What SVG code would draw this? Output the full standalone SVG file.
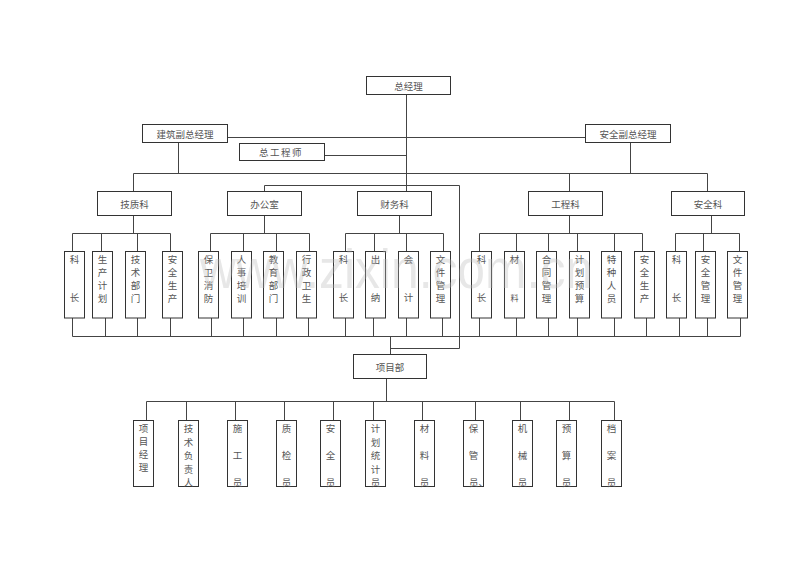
<svg xmlns="http://www.w3.org/2000/svg" width="800" height="565" viewBox="0 0 800 565">
<style>
.b{fill:#fff;stroke:#333;stroke-width:1}
.t{font-family:"Noto Sans CJK SC","Noto Sans",sans-serif;font-size:9.5px;fill:#555;text-anchor:middle;dominant-baseline:central}
.c{stroke:#444;stroke-width:1;fill:none}
.wm{font-family:"Liberation Sans",Arial,sans-serif;font-size:56px;fill:#bbb;fill-opacity:0.35}
</style>
<rect width="800" height="565" fill="#fff"/>
<g id="connectors" class="c">
<path d="M406.5 94.5V191.5M227.5 137.5H585.5M324.5 155.5H406.5M178.5 142.5V173.5M630.5 142.5V173.5M133.5 173.5H707.5M133.5 173.5V191.5M569.5 173.5V191.5M707.5 173.5V191.5M264.5 185.5H459.5V348.5M264.5 185.5V191.5"/>
<path d="M133.5 215.5V233.5M264.5 215.5V233.5M399.5 215.5V233.5M569.5 215.5V233.5M711.5 215.5V233.5"/>
<path d="M72.5 233.5H170.5M210.5 233.5H309.5M345.5 233.5H443.5M479.5 233.5H642.5M675.5 233.5H739.5"/>
<path d="M72.5 233.5V251.5M101.5 233.5V251.5M137.5 233.5V251.5M170.5 233.5V251.5M210.5 233.5V251.5M243.5 233.5V251.5M276.5 233.5V251.5M309.5 233.5V251.5M345.5 233.5V251.5M374.5 233.5V251.5M406.5 233.5V251.5M443.5 233.5V251.5M479.5 233.5V251.5M516.5 233.5V251.5M548.5 233.5V251.5M577.5 233.5V251.5M614.5 233.5V251.5M642.5 233.5V251.5M675.5 233.5V251.5M703.5 233.5V251.5M739.5 233.5V251.5"/>
<path d="M72.5 318V336.5M105.5 318V336.5M137.5 318V336.5M170.5 318V336.5M211.5 318V336.5M243.5 318V336.5M276.5 318V336.5M308.5 318V336.5M345.5 318V336.5M373.5 318V336.5M406.5 318V336.5M442.5 318V336.5M479.5 318V336.5M516.5 318V336.5M548.5 318V336.5M577.5 318V336.5M614.5 318V336.5M646.5 318V336.5M679.5 318V336.5M707.5 318V336.5M740.5 318V336.5M72.5 336.5H740.5"/>
<path d="M390.5 336.5V354.5M390.5 348.5H459.5M386.5 378.5V401.5M146.5 401.5H614.5"/>
<path d="M146.5 401.5V420.5M186.5 401.5V420.5M235.5 401.5V420.5M284.5 401.5V420.5M333.5 401.5V420.5M373.5 401.5V420.5M422.5 401.5V420.5M475.5 401.5V420.5M520.5 401.5V420.5M569.5 401.5V420.5M614.5 401.5V420.5"/>
</g>
<g id="n-zjl"><rect class="b" x="366.5" y="76.5" width="84" height="18"/><text class="t" x="408.5" y="85.5">总经理</text></g>
<g id="n-jzfz"><rect class="b" x="142.5" y="124.5" width="85" height="18"/><text class="t" x="185" y="133.5">建筑副总经理</text></g>
<g id="n-aqfz"><rect class="b" x="585.5" y="124.5" width="85" height="18"/><text class="t" x="628" y="133.5">安全副总经理</text></g>
<g id="n-zgcs"><rect class="b" x="239.5" y="143.5" width="85" height="17"/><text class="t" x="281" y="152" letter-spacing="1.5">总工程师</text></g>
<g id="n-jzk"><rect class="b" x="97.5" y="191.5" width="74" height="24"/><text class="t" x="134.5" y="203.5">技质科</text></g>
<g id="n-bgs"><rect class="b" x="227.5" y="191.5" width="74" height="24"/><text class="t" x="264.5" y="203.5">办公室</text></g>
<g id="n-cwk"><rect class="b" x="357.5" y="191.5" width="74" height="24"/><text class="t" x="394.5" y="203.5">财务科</text></g>
<g id="n-gck"><rect class="b" x="528.5" y="191.5" width="74" height="24"/><text class="t" x="565.5" y="203.5">工程科</text></g>
<g id="n-aqk"><rect class="b" x="671.5" y="191.5" width="73" height="24"/><text class="t" x="708" y="203.5">安全科</text></g>
<g id="r3-1"><rect class="b" x="64.5" y="251.5" width="20" height="66.5"/><text class="t"><tspan x="74.5" y="259">科</tspan><tspan x="74.5" y="297">长</tspan></text></g>
<g id="r3-2"><rect class="b" x="92.5" y="251.5" width="20" height="66.5"/><text class="t"><tspan x="102.5" y="259">生</tspan><tspan x="102.5" y="272">产</tspan><tspan x="102.5" y="285">计</tspan><tspan x="102.5" y="297.5">划</tspan></text></g>
<g id="r3-3"><rect class="b" x="125.5" y="251.5" width="20" height="66.5"/><text class="t"><tspan x="135.5" y="259">技</tspan><tspan x="135.5" y="272">术</tspan><tspan x="135.5" y="285">部</tspan><tspan x="135.5" y="297.5">门</tspan></text></g>
<g id="r3-4"><rect class="b" x="162.5" y="251.5" width="20" height="66.5"/><text class="t"><tspan x="172.5" y="259">安</tspan><tspan x="172.5" y="272">全</tspan><tspan x="172.5" y="285">生</tspan><tspan x="172.5" y="297.5">产</tspan></text></g>
<g id="r3-5"><rect class="b" x="198.5" y="251.5" width="20" height="66.5"/><text class="t"><tspan x="208.5" y="259">保</tspan><tspan x="208.5" y="272">卫</tspan><tspan x="208.5" y="285">消</tspan><tspan x="208.5" y="297.5">防</tspan></text></g>
<g id="r3-6"><rect class="b" x="231.5" y="251.5" width="20" height="66.5"/><text class="t"><tspan x="241.5" y="259">人</tspan><tspan x="241.5" y="272">事</tspan><tspan x="241.5" y="285">培</tspan><tspan x="241.5" y="297.5">训</tspan></text></g>
<g id="r3-7"><rect class="b" x="263.5" y="251.5" width="20" height="66.5"/><text class="t"><tspan x="273.5" y="259">教</tspan><tspan x="273.5" y="272">育</tspan><tspan x="273.5" y="285">部</tspan><tspan x="273.5" y="297.5">门</tspan></text></g>
<g id="r3-8"><rect class="b" x="296.5" y="251.5" width="20" height="66.5"/><text class="t"><tspan x="306.5" y="259">行</tspan><tspan x="306.5" y="272">政</tspan><tspan x="306.5" y="285">卫</tspan><tspan x="306.5" y="297.5">生</tspan></text></g>
<g id="r3-9"><rect class="b" x="333.5" y="251.5" width="20" height="66.5"/><text class="t"><tspan x="343.5" y="259">科</tspan><tspan x="343.5" y="297">长</tspan></text></g>
<g id="r3-10"><rect class="b" x="365.5" y="251.5" width="20" height="66.5"/><text class="t"><tspan x="375.5" y="259">出</tspan><tspan x="375.5" y="297">纳</tspan></text></g>
<g id="r3-11"><rect class="b" x="398.5" y="251.5" width="20" height="66.5"/><text class="t"><tspan x="408.5" y="259">会</tspan><tspan x="408.5" y="297">计</tspan></text></g>
<g id="r3-12"><rect class="b" x="430.5" y="251.5" width="20" height="66.5"/><text class="t"><tspan x="440.5" y="259">文</tspan><tspan x="440.5" y="272">件</tspan><tspan x="440.5" y="285">管</tspan><tspan x="440.5" y="297.5">理</tspan></text></g>
<g id="r3-13"><rect class="b" x="471.5" y="251.5" width="20" height="66.5"/><text class="t"><tspan x="481.5" y="259">科</tspan><tspan x="481.5" y="297">长</tspan></text></g>
<g id="r3-14"><rect class="b" x="504.5" y="251.5" width="20" height="66.5"/><text class="t"><tspan x="514.5" y="259">材</tspan><tspan x="514.5" y="297" font-size="8">料</tspan></text></g>
<g id="r3-15"><rect class="b" x="536.5" y="251.5" width="20" height="66.5"/><text class="t"><tspan x="546.5" y="259">合</tspan><tspan x="546.5" y="272">同</tspan><tspan x="546.5" y="285">管</tspan><tspan x="546.5" y="297.5">理</tspan></text></g>
<g id="r3-16"><rect class="b" x="569.5" y="251.5" width="20" height="66.5"/><text class="t"><tspan x="579.5" y="259">计</tspan><tspan x="579.5" y="272">划</tspan><tspan x="579.5" y="285">预</tspan><tspan x="579.5" y="297.5">算</tspan></text></g>
<g id="r3-17"><rect class="b" x="601.5" y="251.5" width="20" height="66.5"/><text class="t"><tspan x="611.5" y="259">特</tspan><tspan x="611.5" y="272">种</tspan><tspan x="611.5" y="285">人</tspan><tspan x="611.5" y="297.5">员</tspan></text></g>
<g id="r3-18"><rect class="b" x="634.5" y="251.5" width="20" height="66.5"/><text class="t"><tspan x="644.5" y="259">安</tspan><tspan x="644.5" y="272">全</tspan><tspan x="644.5" y="285">生</tspan><tspan x="644.5" y="297.5">产</tspan></text></g>
<g id="r3-19"><rect class="b" x="666.5" y="251.5" width="20" height="66.5"/><text class="t"><tspan x="676.5" y="259">科</tspan><tspan x="676.5" y="297">长</tspan></text></g>
<g id="r3-20"><rect class="b" x="695.5" y="251.5" width="20" height="66.5"/><text class="t"><tspan x="705.5" y="259">安</tspan><tspan x="705.5" y="272">全</tspan><tspan x="705.5" y="285">管</tspan><tspan x="705.5" y="297.5">理</tspan></text></g>
<g id="r3-21"><rect class="b" x="727.5" y="251.5" width="20" height="66.5"/><text class="t"><tspan x="737.5" y="259">文</tspan><tspan x="737.5" y="272">件</tspan><tspan x="737.5" y="285">管</tspan><tspan x="737.5" y="297.5">理</tspan></text></g>
<g id="n-xmb"><rect class="b" x="353.5" y="354.5" width="73" height="24"/><text class="t" x="390" y="366.5">项目部</text></g>
<g id="b-1"><rect class="b" x="133.5" y="420.5" width="20" height="66"/><text class="t"><tspan x="143.5" y="428">项</tspan><tspan x="143.5" y="441">目</tspan><tspan x="143.5" y="454">经</tspan><tspan x="143.5" y="467">理</tspan></text></g>
<g id="b-2"><rect class="b" x="178.5" y="420.5" width="20" height="66"/><text class="t"><tspan x="188.5" y="428">技</tspan><tspan x="188.5" y="441.5">术</tspan><tspan x="188.5" y="455">负</tspan><tspan x="188.5" y="468.5">责</tspan><tspan x="188.5" y="482">人</tspan></text></g>
<g id="b-3"><rect class="b" x="227.5" y="420.5" width="20" height="66"/><text class="t"><tspan x="237.5" y="428">施</tspan><tspan x="237.5" y="455">工</tspan><tspan x="237.5" y="482">员</tspan></text></g>
<g id="b-4"><rect class="b" x="276.5" y="420.5" width="20" height="66"/><text class="t"><tspan x="286.5" y="428">质</tspan><tspan x="286.5" y="455">检</tspan><tspan x="286.5" y="482">员</tspan></text></g>
<g id="b-5"><rect class="b" x="320.5" y="420.5" width="20" height="66"/><text class="t"><tspan x="330.5" y="428">安</tspan><tspan x="330.5" y="455">全</tspan><tspan x="330.5" y="482">员</tspan></text></g>
<g id="b-6"><rect class="b" x="365.5" y="420.5" width="20" height="66"/><text class="t"><tspan x="375.5" y="428">计</tspan><tspan x="375.5" y="441.5">划</tspan><tspan x="375.5" y="455">统</tspan><tspan x="375.5" y="468.5">计</tspan><tspan x="375.5" y="482">员</tspan></text></g>
<g id="b-7"><rect class="b" x="414.5" y="420.5" width="20" height="66"/><text class="t"><tspan x="424.5" y="428">材</tspan><tspan x="424.5" y="455">料</tspan><tspan x="424.5" y="482">员</tspan></text></g>
<g id="b-8"><rect class="b" x="463.5" y="420.5" width="20" height="66"/><text class="t"><tspan x="473.5" y="428">保</tspan><tspan x="473.5" y="455">管</tspan><tspan x="469" y="482" text-anchor="start">员、</tspan></text></g>
<g id="b-9"><rect class="b" x="512.5" y="420.5" width="20" height="66"/><text class="t"><tspan x="522.5" y="428">机</tspan><tspan x="522.5" y="455">械</tspan><tspan x="522.5" y="482">员</tspan></text></g>
<g id="b-10"><rect class="b" x="556.5" y="420.5" width="20" height="66"/><text class="t"><tspan x="566.5" y="428">预</tspan><tspan x="566.5" y="455">算</tspan><tspan x="566.5" y="482">员</tspan></text></g>
<g id="b-11"><rect class="b" x="601.5" y="420.5" width="20" height="66"/><text class="t"><tspan x="611.5" y="428">档</tspan><tspan x="611.5" y="455">案</tspan><tspan x="611.5" y="482">员</tspan></text></g>
<text class="wm" x="200" y="288" textLength="393" lengthAdjust="spacingAndGlyphs">www.zixin.com.cn</text>
</svg>
